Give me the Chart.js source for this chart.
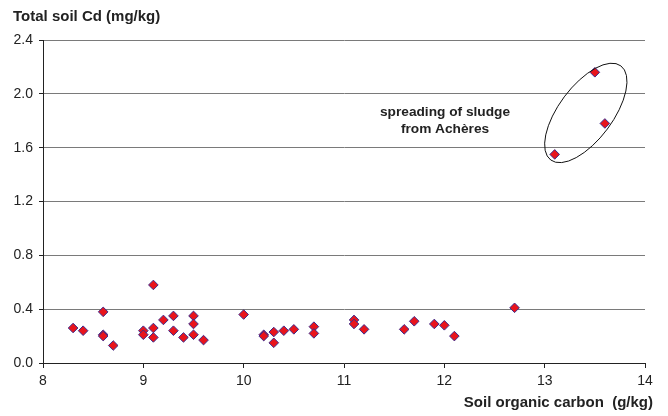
<!DOCTYPE html>
<html>
<head>
<meta charset="utf-8">
<script src="https://cdn.jsdelivr.net/npm/chart.js@4.4.1/dist/chart.umd.min.js"></script>
<style>
  html, body { margin: 0; padding: 0; background: #fff; }
  #wrap { width: 668px; height: 416px; }
</style>
</head>
<body>
<div id="wrap"><canvas id="chart" width="668" height="416"></canvas></div>
<script>
// soil organic carbon (g/kg)
const carbon = [
  8.3, 8.4, 8.6, 8.6, 8.6, 8.7, 9.0, 9.0, 9.1, 9.1, 9.1, 9.2, 9.3, 9.3, 9.4,
  9.5, 9.5, 9.5, 9.6, 10.0, 10.2, 10.2, 10.3, 10.3, 10.4, 10.5, 10.7, 10.7,
  11.1, 11.1, 11.2, 11.6, 11.7, 11.9, 12.0, 12.1, 12.7, 13.1, 13.5, 13.6
];
// total soil Cd (mg/kg)
const cadmium = [
  0.26, 0.24, 0.38, 0.21, 0.20, 0.13, 0.24, 0.21, 0.58, 0.26, 0.19, 0.32, 0.35, 0.24, 0.19,
  0.35, 0.29, 0.21, 0.17, 0.36, 0.21, 0.20, 0.23, 0.15, 0.24, 0.25, 0.27, 0.22,
  0.32, 0.29, 0.25, 0.25, 0.31, 0.29, 0.28, 0.20, 0.41, 1.55, 2.16, 1.78
];
const xTicks = [8, 9, 10, 11, 12, 13, 14];
const yTicks = [0.0, 0.4, 0.8, 1.2, 1.6, 2.0, 2.4];

const yTitle = "Total soil Cd (mg/kg)";
const xTitle = "Soil organic carbon  (g/kg)";
const noteLines = ["spreading of sludge", "from Achères"];

const FONT = "'Liberation Sans', Arial, sans-serif";

/* labels + ellipse round the sludge plots */
const extras = {
  id: "extras",
  afterDatasetsDraw(c) {
    const ctx = c.ctx;
    const x = c.scales.x, y = c.scales.y;
    ctx.save();

    // ellipse
    ctx.beginPath();
    ctx.ellipse(x.getPixelForValue(13.41), y.getPixelForValue(1.858), 58.7, 26.9,
      -53.3 * Math.PI / 180, 0, Math.PI * 2);
    ctx.strokeStyle = "#111";
    ctx.lineWidth = 1;
    ctx.stroke();

    ctx.fillStyle = "#222";
    ctx.font = "bold 13.7px " + FONT;
    ctx.textAlign = "center";
    ctx.textBaseline = "middle";
    ctx.fillText(noteLines[0], 445, 112);
    ctx.fillText(noteLines[1], 445, 129);

    ctx.font = "bold 15px " + FONT;
    ctx.textAlign = "left";
    ctx.fillText(yTitle, 13, 17);
    ctx.textAlign = "right";
    ctx.fillText(xTitle, 653, 403);
    ctx.restore();
  }
};

new Chart(document.getElementById("chart"), {
  type: "scatter",
  data: {
    datasets: [{
      data: carbon.map((v, i) => ({ x: v, y: cadmium[i] })),
      pointStyle: "rectRot",
      pointRadius: 4.8,
      pointHoverRadius: 4.8,
      backgroundColor: "#e8141c",
      borderColor: "#3b2a8c",
      borderWidth: 1
    }]
  },
  options: {
    responsive: false,
    animation: false,
    layout: { padding: { left: 0, right: 23, top: 40, bottom: 0 } },
    plugins: { legend: { display: false }, tooltip: { enabled: false } },
    scales: {
      x: {
        type: "linear",
        min: 8, max: 14,
        afterBuildTicks: s => { s.ticks = xTicks.map(v => ({ value: v })); },
        afterFit: s => { s.height = 53; },
        grid: { drawOnChartArea: false, drawTicks: true, tickLength: 5, tickColor: "#222" },
        border: { color: "#222", width: 1 },
        ticks: { color: "#222", font: { family: FONT, size: 14 }, padding: 5 }
      },
      y: {
        min: 0, max: 2.4,
        afterBuildTicks: s => { s.ticks = yTicks.map(v => ({ value: v })); },
        afterFit: s => { s.width = 43; },
        grid: { color: "#7a7a7a", tickLength: 4, tickColor: "#222" },
        border: { color: "#222", width: 1 },
        ticks: { color: "#222", font: { family: FONT, size: 14 }, padding: 6,
          callback: v => v.toFixed(1) }
      }
    }
  },
  plugins: [extras]
});
</script>
</body>
</html>
